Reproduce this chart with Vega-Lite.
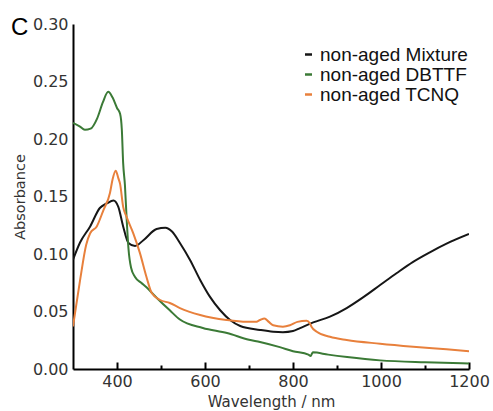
{
  "$schema": "https://vega.github.io/schema/vega-lite/v6.json",
  "width": 396,
  "height": 345,
  "autosize": "none",
  "padding": {"left": 73, "top": 24, "right": 24, "bottom": 42},
  "background": "white",
  "title": {"text": "C", "anchor": "start", "frame": "group", "fontSize": 24, "font": "Liberation Sans", "fontWeight": "normal", "color": "#000", "dx": -62, "dy": 43, "baseline": "alphabetic", "offset": 0},
  "config": {"view": {"stroke": null}},
  "datasets": {
    "spectra": [
      {"s": "non-aged Mixture", "wl": 300, "a": 0.095},
      {"s": "non-aged Mixture", "wl": 316, "a": 0.110},
      {"s": "non-aged Mixture", "wl": 339, "a": 0.124},
      {"s": "non-aged Mixture", "wl": 361, "a": 0.140},
      {"s": "non-aged Mixture", "wl": 377, "a": 0.144},
      {"s": "non-aged Mixture", "wl": 392, "a": 0.1465},
      {"s": "non-aged Mixture", "wl": 403, "a": 0.141},
      {"s": "non-aged Mixture", "wl": 414, "a": 0.124},
      {"s": "non-aged Mixture", "wl": 426, "a": 0.1096},
      {"s": "non-aged Mixture", "wl": 441, "a": 0.107},
      {"s": "non-aged Mixture", "wl": 460, "a": 0.112},
      {"s": "non-aged Mixture", "wl": 490, "a": 0.1217},
      {"s": "non-aged Mixture", "wl": 510, "a": 0.1228},
      {"s": "non-aged Mixture", "wl": 525, "a": 0.1195},
      {"s": "non-aged Mixture", "wl": 543, "a": 0.1096},
      {"s": "non-aged Mixture", "wl": 566, "a": 0.0948},
      {"s": "non-aged Mixture", "wl": 589, "a": 0.0774},
      {"s": "non-aged Mixture", "wl": 611, "a": 0.0629},
      {"s": "non-aged Mixture", "wl": 634, "a": 0.0513},
      {"s": "non-aged Mixture", "wl": 657, "a": 0.0426},
      {"s": "non-aged Mixture", "wl": 680, "a": 0.0374},
      {"s": "non-aged Mixture", "wl": 725, "a": 0.034},
      {"s": "non-aged Mixture", "wl": 755, "a": 0.0324},
      {"s": "non-aged Mixture", "wl": 777, "a": 0.032},
      {"s": "non-aged Mixture", "wl": 800, "a": 0.033},
      {"s": "non-aged Mixture", "wl": 816, "a": 0.0356},
      {"s": "non-aged Mixture", "wl": 846, "a": 0.0405},
      {"s": "non-aged Mixture", "wl": 884, "a": 0.0455},
      {"s": "non-aged Mixture", "wl": 922, "a": 0.053},
      {"s": "non-aged Mixture", "wl": 960, "a": 0.0625},
      {"s": "non-aged Mixture", "wl": 998, "a": 0.073},
      {"s": "non-aged Mixture", "wl": 1036, "a": 0.0835},
      {"s": "non-aged Mixture", "wl": 1073, "a": 0.0932},
      {"s": "non-aged Mixture", "wl": 1111, "a": 0.1015},
      {"s": "non-aged Mixture", "wl": 1149, "a": 0.1090},
      {"s": "non-aged Mixture", "wl": 1200, "a": 0.1174},
      {"s": "non-aged DBTTF", "wl": 300, "a": 0.214},
      {"s": "non-aged DBTTF", "wl": 315, "a": 0.211},
      {"s": "non-aged DBTTF", "wl": 327, "a": 0.208},
      {"s": "non-aged DBTTF", "wl": 340, "a": 0.209},
      {"s": "non-aged DBTTF", "wl": 355, "a": 0.218},
      {"s": "non-aged DBTTF", "wl": 368, "a": 0.232},
      {"s": "non-aged DBTTF", "wl": 380, "a": 0.241},
      {"s": "non-aged DBTTF", "wl": 390, "a": 0.236},
      {"s": "non-aged DBTTF", "wl": 400, "a": 0.227},
      {"s": "non-aged DBTTF", "wl": 407, "a": 0.222},
      {"s": "non-aged DBTTF", "wl": 411, "a": 0.208},
      {"s": "non-aged DBTTF", "wl": 414, "a": 0.179},
      {"s": "non-aged DBTTF", "wl": 418, "a": 0.16},
      {"s": "non-aged DBTTF", "wl": 422, "a": 0.13},
      {"s": "non-aged DBTTF", "wl": 426, "a": 0.105},
      {"s": "non-aged DBTTF", "wl": 432, "a": 0.088},
      {"s": "non-aged DBTTF", "wl": 441, "a": 0.080},
      {"s": "non-aged DBTTF", "wl": 455, "a": 0.075},
      {"s": "non-aged DBTTF", "wl": 467, "a": 0.071},
      {"s": "non-aged DBTTF", "wl": 490, "a": 0.062},
      {"s": "non-aged DBTTF", "wl": 520, "a": 0.051},
      {"s": "non-aged DBTTF", "wl": 543, "a": 0.043},
      {"s": "non-aged DBTTF", "wl": 595, "a": 0.0357},
      {"s": "non-aged DBTTF", "wl": 650, "a": 0.0313},
      {"s": "non-aged DBTTF", "wl": 700, "a": 0.0255},
      {"s": "non-aged DBTTF", "wl": 725, "a": 0.0235},
      {"s": "non-aged DBTTF", "wl": 770, "a": 0.019},
      {"s": "non-aged DBTTF", "wl": 800, "a": 0.0155},
      {"s": "non-aged DBTTF", "wl": 835, "a": 0.0125},
      {"s": "non-aged DBTTF", "wl": 840, "a": 0.0112},
      {"s": "non-aged DBTTF", "wl": 845, "a": 0.0145},
      {"s": "non-aged DBTTF", "wl": 880, "a": 0.0125},
      {"s": "non-aged DBTTF", "wl": 923, "a": 0.0104},
      {"s": "non-aged DBTTF", "wl": 998, "a": 0.0075},
      {"s": "non-aged DBTTF", "wl": 1100, "a": 0.0058},
      {"s": "non-aged DBTTF", "wl": 1200, "a": 0.0048},
      {"s": "non-aged TCNQ", "wl": 300, "a": 0.037},
      {"s": "non-aged TCNQ", "wl": 316, "a": 0.077},
      {"s": "non-aged TCNQ", "wl": 330, "a": 0.108},
      {"s": "non-aged TCNQ", "wl": 339, "a": 0.118},
      {"s": "non-aged TCNQ", "wl": 354, "a": 0.124},
      {"s": "non-aged TCNQ", "wl": 369, "a": 0.138},
      {"s": "non-aged TCNQ", "wl": 384, "a": 0.153},
      {"s": "non-aged TCNQ", "wl": 390, "a": 0.165},
      {"s": "non-aged TCNQ", "wl": 397, "a": 0.1725},
      {"s": "non-aged TCNQ", "wl": 403, "a": 0.166},
      {"s": "non-aged TCNQ", "wl": 407, "a": 0.161},
      {"s": "non-aged TCNQ", "wl": 414, "a": 0.141},
      {"s": "non-aged TCNQ", "wl": 422, "a": 0.132},
      {"s": "non-aged TCNQ", "wl": 437, "a": 0.118},
      {"s": "non-aged TCNQ", "wl": 452, "a": 0.101},
      {"s": "non-aged TCNQ", "wl": 467, "a": 0.080},
      {"s": "non-aged TCNQ", "wl": 479, "a": 0.066},
      {"s": "non-aged TCNQ", "wl": 498, "a": 0.060},
      {"s": "non-aged TCNQ", "wl": 520, "a": 0.0574},
      {"s": "non-aged TCNQ", "wl": 543, "a": 0.053},
      {"s": "non-aged TCNQ", "wl": 589, "a": 0.047},
      {"s": "non-aged TCNQ", "wl": 649, "a": 0.0426},
      {"s": "non-aged TCNQ", "wl": 695, "a": 0.041},
      {"s": "non-aged TCNQ", "wl": 715, "a": 0.041},
      {"s": "non-aged TCNQ", "wl": 725, "a": 0.0426},
      {"s": "non-aged TCNQ", "wl": 735, "a": 0.044},
      {"s": "non-aged TCNQ", "wl": 745, "a": 0.041},
      {"s": "non-aged TCNQ", "wl": 755, "a": 0.038},
      {"s": "non-aged TCNQ", "wl": 777, "a": 0.0368},
      {"s": "non-aged TCNQ", "wl": 793, "a": 0.038},
      {"s": "non-aged TCNQ", "wl": 810, "a": 0.041},
      {"s": "non-aged TCNQ", "wl": 831, "a": 0.042},
      {"s": "non-aged TCNQ", "wl": 838, "a": 0.040},
      {"s": "non-aged TCNQ", "wl": 842, "a": 0.0368},
      {"s": "non-aged TCNQ", "wl": 854, "a": 0.0324},
      {"s": "non-aged TCNQ", "wl": 884, "a": 0.028},
      {"s": "non-aged TCNQ", "wl": 922, "a": 0.0252},
      {"s": "non-aged TCNQ", "wl": 998, "a": 0.022},
      {"s": "non-aged TCNQ", "wl": 1073, "a": 0.0194},
      {"s": "non-aged TCNQ", "wl": 1149, "a": 0.0171},
      {"s": "non-aged TCNQ", "wl": 1200, "a": 0.0155}
    ]
  },
  "data": {"name": "spectra"},
  "encoding": {
    "y": {
      "field": "a", "type": "quantitative",
      "scale": {"domain": [0, 0.3], "nice": false},
      "axis": {
        "title": "Absorbance",
        "values": [0, 0.05, 0.1, 0.15, 0.2, 0.25, 0.3],
        "format": ".2f",
        "grid": false,
        "ticks": false,
        "labelFlush": false,
        "domainColor": "#000", "domainWidth": 2,
        "labelFont": "DejaVu Sans", "labelFontSize": 16, "labelColor": "#333",
        "labelPadding": 5,
        "titleFont": "DejaVu Sans", "titleFontSize": 14.5, "titleFontWeight": "normal", "titleColor": "#333",
        "titlePadding": 5
      }
    }
  },
  "layer": [
    {
      "mark": {"type": "line", "strokeWidth": 2, "interpolate": "monotone", "clip": true},
      "encoding": {
        "x": {
          "field": "wl", "type": "quantitative",
          "scale": {"domain": [300, 1200], "nice": false, "zero": false},
          "axis": {
            "orient": "bottom",
            "title": "Wavelength / nm",
            "values": [400, 600, 800, 1000, 1200],
            "labelFlush": false,
            "labelOverlap": false,
            "format": "d",
            "grid": false,
            "ticks": false,
            "domainColor": "#000", "domainWidth": 2,
            "labelFont": "DejaVu Sans", "labelFontSize": 16, "labelColor": "#333",
            "labelPadding": 4,
            "titleFont": "DejaVu Sans", "titleFontSize": 15, "titleFontWeight": "normal", "titleColor": "#333",
            "titlePadding": 5
          }
        },
        "color": {
          "field": "s", "type": "nominal",
          "scale": {"domain": ["non-aged Mixture", "non-aged DBTTF", "non-aged TCNQ"], "range": ["#161616", "#3b7a36", "#e8803c"]},
          "legend": {
            "orient": "none", "legendX": 226, "legendY": 21, "title": null,
            "symbolType": "stroke", "symbolSize": 49, "symbolStrokeWidth": 2.5,
            "labelFont": "Liberation Sans", "labelFontSize": 19, "labelColor": "#111",
            "labelOffset": 2, "rowPadding": 0, "padding": 0
          }
        }
      }
    },
    {
      "mark": {"type": "line", "opacity": 0, "clip": true},
      "encoding": {
        "x": {
          "field": "wl", "type": "quantitative",
          "axis": {
            "orient": "top",
            "offset": -345,
            "title": null,
            "labels": false,
            "domain": false,
            "grid": false,
            "values": [400, 500, 600, 700, 800, 900, 1000, 1100, 1200],
            "ticks": true,
            "tickSize": 7,
            "tickColor": "#000", "tickWidth": 2,
            "tickDash": {"condition": {"test": "datum.value % 200 === 0", "value": [8, 2]}, "value": [4, 20]}
          }
        },
        "detail": {"field": "s"}
      }
    }
  ],
  "resolve": {"axis": {"x": "independent"}}
}
